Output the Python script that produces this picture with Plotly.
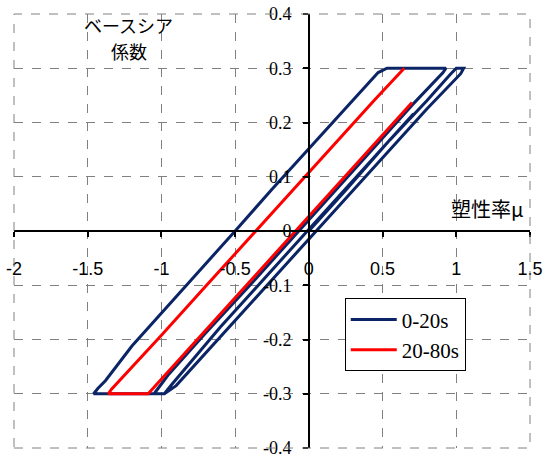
import plotly.graph_objects as go

# --- データ ---
blue_x = [0.0, 0.25, 0.55, 0.8, 0.96, 1.0, 1.05,
          1.03, 0.8, 0.5, 0.2, 0.05, -0.3, -0.6, -0.84, -0.9, -0.98, -1.2, -1.46,
          -1.43, -1.38, -1.2, -1.0, -0.75, -0.5, -0.25, 0.0, 0.2, 0.4, 0.47, 0.53, 0.75, 0.93,
          0.91, 0.7, 0.4, 0.1, -0.07, -0.4, -0.7, -0.95, -1.0, -1.05,
          -0.98, -0.93, -0.6, -0.3, -0.01, 0.3, 0.55, 0.71]
blue_y = [0.0, 0.075, 0.168, 0.24, 0.289, 0.3, 0.3,
          0.29, 0.225, 0.135, 0.046, 0.0, -0.105, -0.196, -0.268, -0.285, -0.3, -0.3, -0.3,
          -0.29, -0.276, -0.212, -0.152, -0.076, 0.0, 0.077, 0.152, 0.212, 0.27, 0.292, 0.3, 0.3, 0.3,
          0.292, 0.232, 0.141, 0.05, 0.0, -0.1, -0.188, -0.264, -0.282, -0.3,
          -0.3, -0.283, -0.177, -0.087, 0.0, 0.093, 0.168, 0.216]

red_x = [0.70, 0.55, 0.3, 0.0, -0.09, -0.35, -0.65, -0.9, -1.03, -1.07, -1.09, -1.2, -1.36,
         -1.34, -1.25, -1.0, -0.7, -0.36, -0.1, 0.2, 0.45, 0.647]
red_y = [0.237, 0.192, 0.117, 0.027, 0.0, -0.078, -0.168, -0.243, -0.282, -0.295, -0.3, -0.3, -0.3,
         -0.292, -0.266, -0.192, -0.102, 0.0, 0.078, 0.168, 0.243, 0.3]

x_ticks = [-2, -1.5, -1, -0.5, 0, 0.5, 1, 1.5]
x_labels = ["-2", "-1.5", "-1", "-0.5", "0", "0.5", "1", "1.5"]
y_ticks = [-0.4, -0.3, -0.2, -0.1, 0, 0.1, 0.2, 0.3, 0.4]
y_labels = ["-0.4", "-0.3", "-0.2", "-0.1", "0", "0.1", "0.2", "0.3", "0.4"]

serif = "Liberation Serif"
sans = "Liberation Sans"

fig = go.Figure()
fig.add_trace(go.Scatter(x=blue_x, y=blue_y, mode="lines", name="0-20s", legendgroup="a",
                         line=dict(color="#0A2466", width=3)))
fig.add_trace(go.Scatter(x=red_x, y=red_y, mode="lines", name="20-80s", legendgroup="b",
                         line=dict(color="#FF0000", width=3)))

fig.update_xaxes(range=[-2, 1.5], tickvals=x_ticks, ticktext=x_labels,
                 showgrid=True, gridcolor="#808080", griddash="dash", gridwidth=1,
                 showline=True, linecolor="black", linewidth=1.5,
                 ticks="outside", ticklen=5, tickcolor="black", tickwidth=1.5,
                 anchor="free", position=0.5, zeroline=False, automargin=False,
                 ticklabeloverflow="allow",
                 tickfont=dict(family=sans, size=18, color="black"),
                 ticklabelstandoff=17)
fig.update_yaxes(range=[-0.4, 0.4], tickvals=y_ticks, ticktext=y_labels,
                 showgrid=True, gridcolor="#808080", griddash="dash", gridwidth=1,
                 showline=True, linecolor="black", linewidth=1.5,
                 ticks="outside", ticklen=5, tickcolor="black", tickwidth=1.5,
                 anchor="free", position=2 / 3.5, zeroline=False, automargin=False,
                 ticklabeloverflow="allow",
                 tickfont=dict(family=serif, size=18, color="black"),
                 ticklabelstandoff=8)

# 外枠 (破線)
fig.add_shape(type="rect", xref="paper", yref="paper", x0=0, y0=0, x1=1, y1=1,
              line=dict(color="#808080", width=1, dash="dash"), layer="above")

fig.add_annotation(x=-1.22, y=0.38, text="ベースシア", showarrow=False,
                   font=dict(family="Noto Sans CJK JP", size=18, color="black"))
fig.add_annotation(x=-1.22, y=0.332, text="係数", showarrow=False,
                   font=dict(family="Noto Sans CJK JP", size=18, color="black"))
fig.add_annotation(x=1.21, y=0.041, text="塑性率μ", showarrow=False,
                   font=dict(family="Noto Sans CJK JP", size=20, color="black"))

fig.update_layout(width=547, height=459,
                  margin=dict(l=14, r=17, t=14, b=11, autoexpand=False),
                  paper_bgcolor="white", plot_bgcolor="white",
                  legend=dict(x=0.641, y=0.345, xanchor="left", yanchor="top",
                              bordercolor="black", borderwidth=1, bgcolor="white",
                              tracegroupgap=0, itemwidth=46,
                              font=dict(family=serif, size=21, color="black")))

# ページ余白をなくす
fig.write_html("out.html", config={"displayModeBar": False},
               post_script="document.body.style.margin='0';")
